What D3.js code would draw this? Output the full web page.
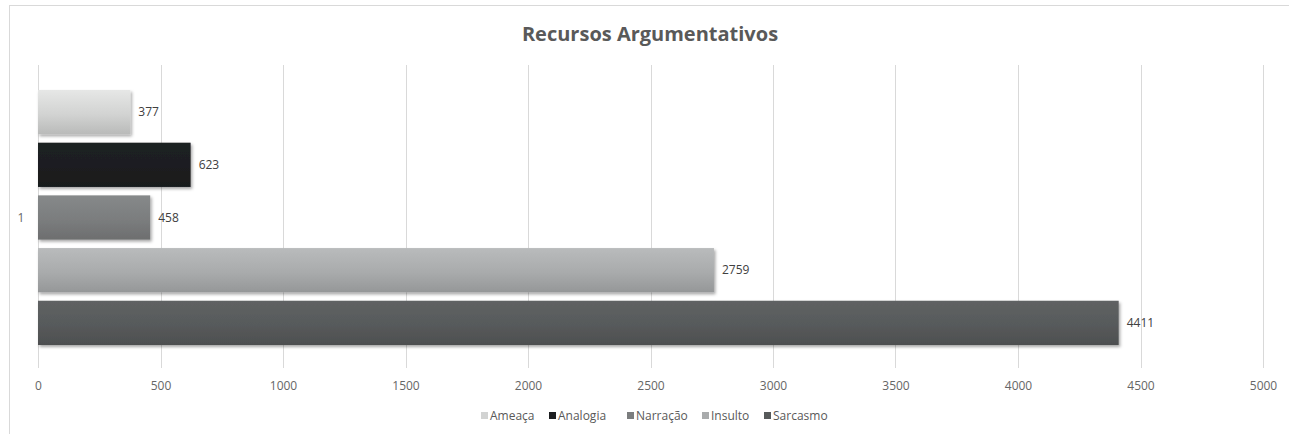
<!DOCTYPE html>
<html>
<head>
<meta charset="utf-8">
<script src="https://cdn.jsdelivr.net/npm/d3@7"></script>
<style>
  body { margin: 0; background: #fff; }
  svg { display: block; font-family: 'Open Sans', 'DejaVu Sans', sans-serif; }
</style>
</head>
<body>
<div id="chart"></div>
<script>
// chart data
const title = 'Recursos Argumentativos';
const category = '1';
const seriesNames = ['Ameaça', 'Analogia', 'Narração', 'Insulto', 'Sarcasmo'];
const seriesValues = [377, 623, 458, 2759, 4411];
const xTicks = [0, 500, 1000, 1500, 2000, 2500, 3000, 3500, 4000, 4500, 5000];
const seriesColors = ['#d2d3d2', '#1c1e20', '#7b7d7e', '#a9abac', '#575a5b'];

const width = 1289;
const height = 434;
const margin = { top: 65, right: 26, bottom: 66, left: 38 };

const svg = d3.select('#chart').append('svg')
  .attr('width', width)
  .attr('height', height);

const defs = svg.append('defs');

// subtle shadow under bars
const shadow = defs.append('filter')
  .attr('id', 'shadow')
  .attr('x', '-5%').attr('y', '-20%')
  .attr('width', '110%').attr('height', '150%');
shadow.append('feDropShadow')
  .attr('dx', 1.5).attr('dy', 2)
  .attr('stdDeviation', 1.5)
  .attr('flood-color', '#000')
  .attr('flood-opacity', 0.35);

// vertical gradient for each series
seriesColors.forEach((c, i) => {
  const g = defs.append('linearGradient')
    .attr('id', `grad${i}`)
    .attr('x1', 0).attr('y1', 0).attr('x2', 0).attr('y2', 1);
  g.append('stop').attr('offset', '0%').attr('stop-color', d3.color(c).brighter(0.25));
  g.append('stop').attr('offset', '55%').attr('stop-color', c);
  g.append('stop').attr('offset', '100%').attr('stop-color', d3.color(c).darker(0.35));
});

// outer border
svg.append('rect')
  .attr('x', 9.5).attr('y', 5.5)
  .attr('width', width)
  .attr('height', height)
  .attr('fill', 'none')
  .attr('stroke', '#d9d9d9');

// title
svg.append('text')
  .attr('x', 650)
  .attr('y', 41)
  .attr('text-anchor', 'middle')
  .style('font-size', '20px')
  .style('font-weight', 'bold')
  .style('fill', '#595959')
  .text(title);

const x = d3.scaleLinear()
  .domain([0, 5000])
  .range([margin.left, width - margin.right]);

const y = d3.scaleBand()
  .domain(seriesNames)
  .range([90, 345])
  .paddingInner(0.16)
  .paddingOuter(0);

// gridlines
svg.append('g')
  .selectAll('line')
  .data(xTicks)
  .join('line')
  .attr('x1', d => Math.round(x(d)) + 0.5)
  .attr('x2', d => Math.round(x(d)) + 0.5)
  .attr('y1', margin.top)
  .attr('y2', height - margin.bottom)
  .attr('stroke', '#d9d9d9')
  .attr('stroke-width', 1);

// x axis labels
const xAxis = d3.axisBottom(x)
  .tickValues(xTicks)
  .tickFormat(d3.format('d'))
  .tickSize(0)
  .tickPadding(0);
const axisG = svg.append('g')
  .attr('transform', `translate(0,${height - margin.bottom + 13})`)
  .call(xAxis);
axisG.select('.domain').remove();
axisG.selectAll('text')
  .style('font-size', '12px')
  .style('font-family', "'Open Sans', sans-serif")
  .style('fill', '#666');

// category label
svg.append('text')
  .attr('x', 21)
  .attr('y', (y.range()[0] + y.range()[1]) / 2 + 4)
  .attr('text-anchor', 'middle')
  .style('font-size', '12px')
  .style('fill', '#666')
  .text(category);

// bars
const bars = svg.append('g');
bars.selectAll('rect')
  .data(seriesNames)
  .join('rect')
  .attr('x', x(0))
  .attr('y', d => y(d))
  .attr('width', (d, i) => x(seriesValues[i]) - x(0))
  .attr('height', y.bandwidth())
  .attr('fill', (d, i) => `url(#grad${i})`)
  .attr('filter', 'url(#shadow)');

// value labels
bars.selectAll('text')
  .data(seriesNames)
  .join('text')
  .attr('x', (d, i) => x(seriesValues[i]) + 8)
  .attr('y', d => y(d) + y.bandwidth() / 2 + 4)
  .style('font-size', '12px')
  .style('fill', '#404040')
  .text((d, i) => seriesValues[i]);

// legend
const legendX = [481, 549, 627, 702, 764];
const legend = svg.append('g');
const item = legend.selectAll('g')
  .data(seriesNames)
  .join('g')
  .attr('transform', (d, i) => `translate(${legendX[i]},416)`);
item.append('rect')
  .attr('x', 0).attr('y', -4)
  .attr('width', 7).attr('height', 7)
  .attr('fill', (d, i) => seriesColors[i]);
item.append('text')
  .attr('x', 9)
  .attr('y', 4)
  .style('font-size', '12px')
  .style('fill', '#595959')
  .text(d => d);
</script>
</body>
</html>
